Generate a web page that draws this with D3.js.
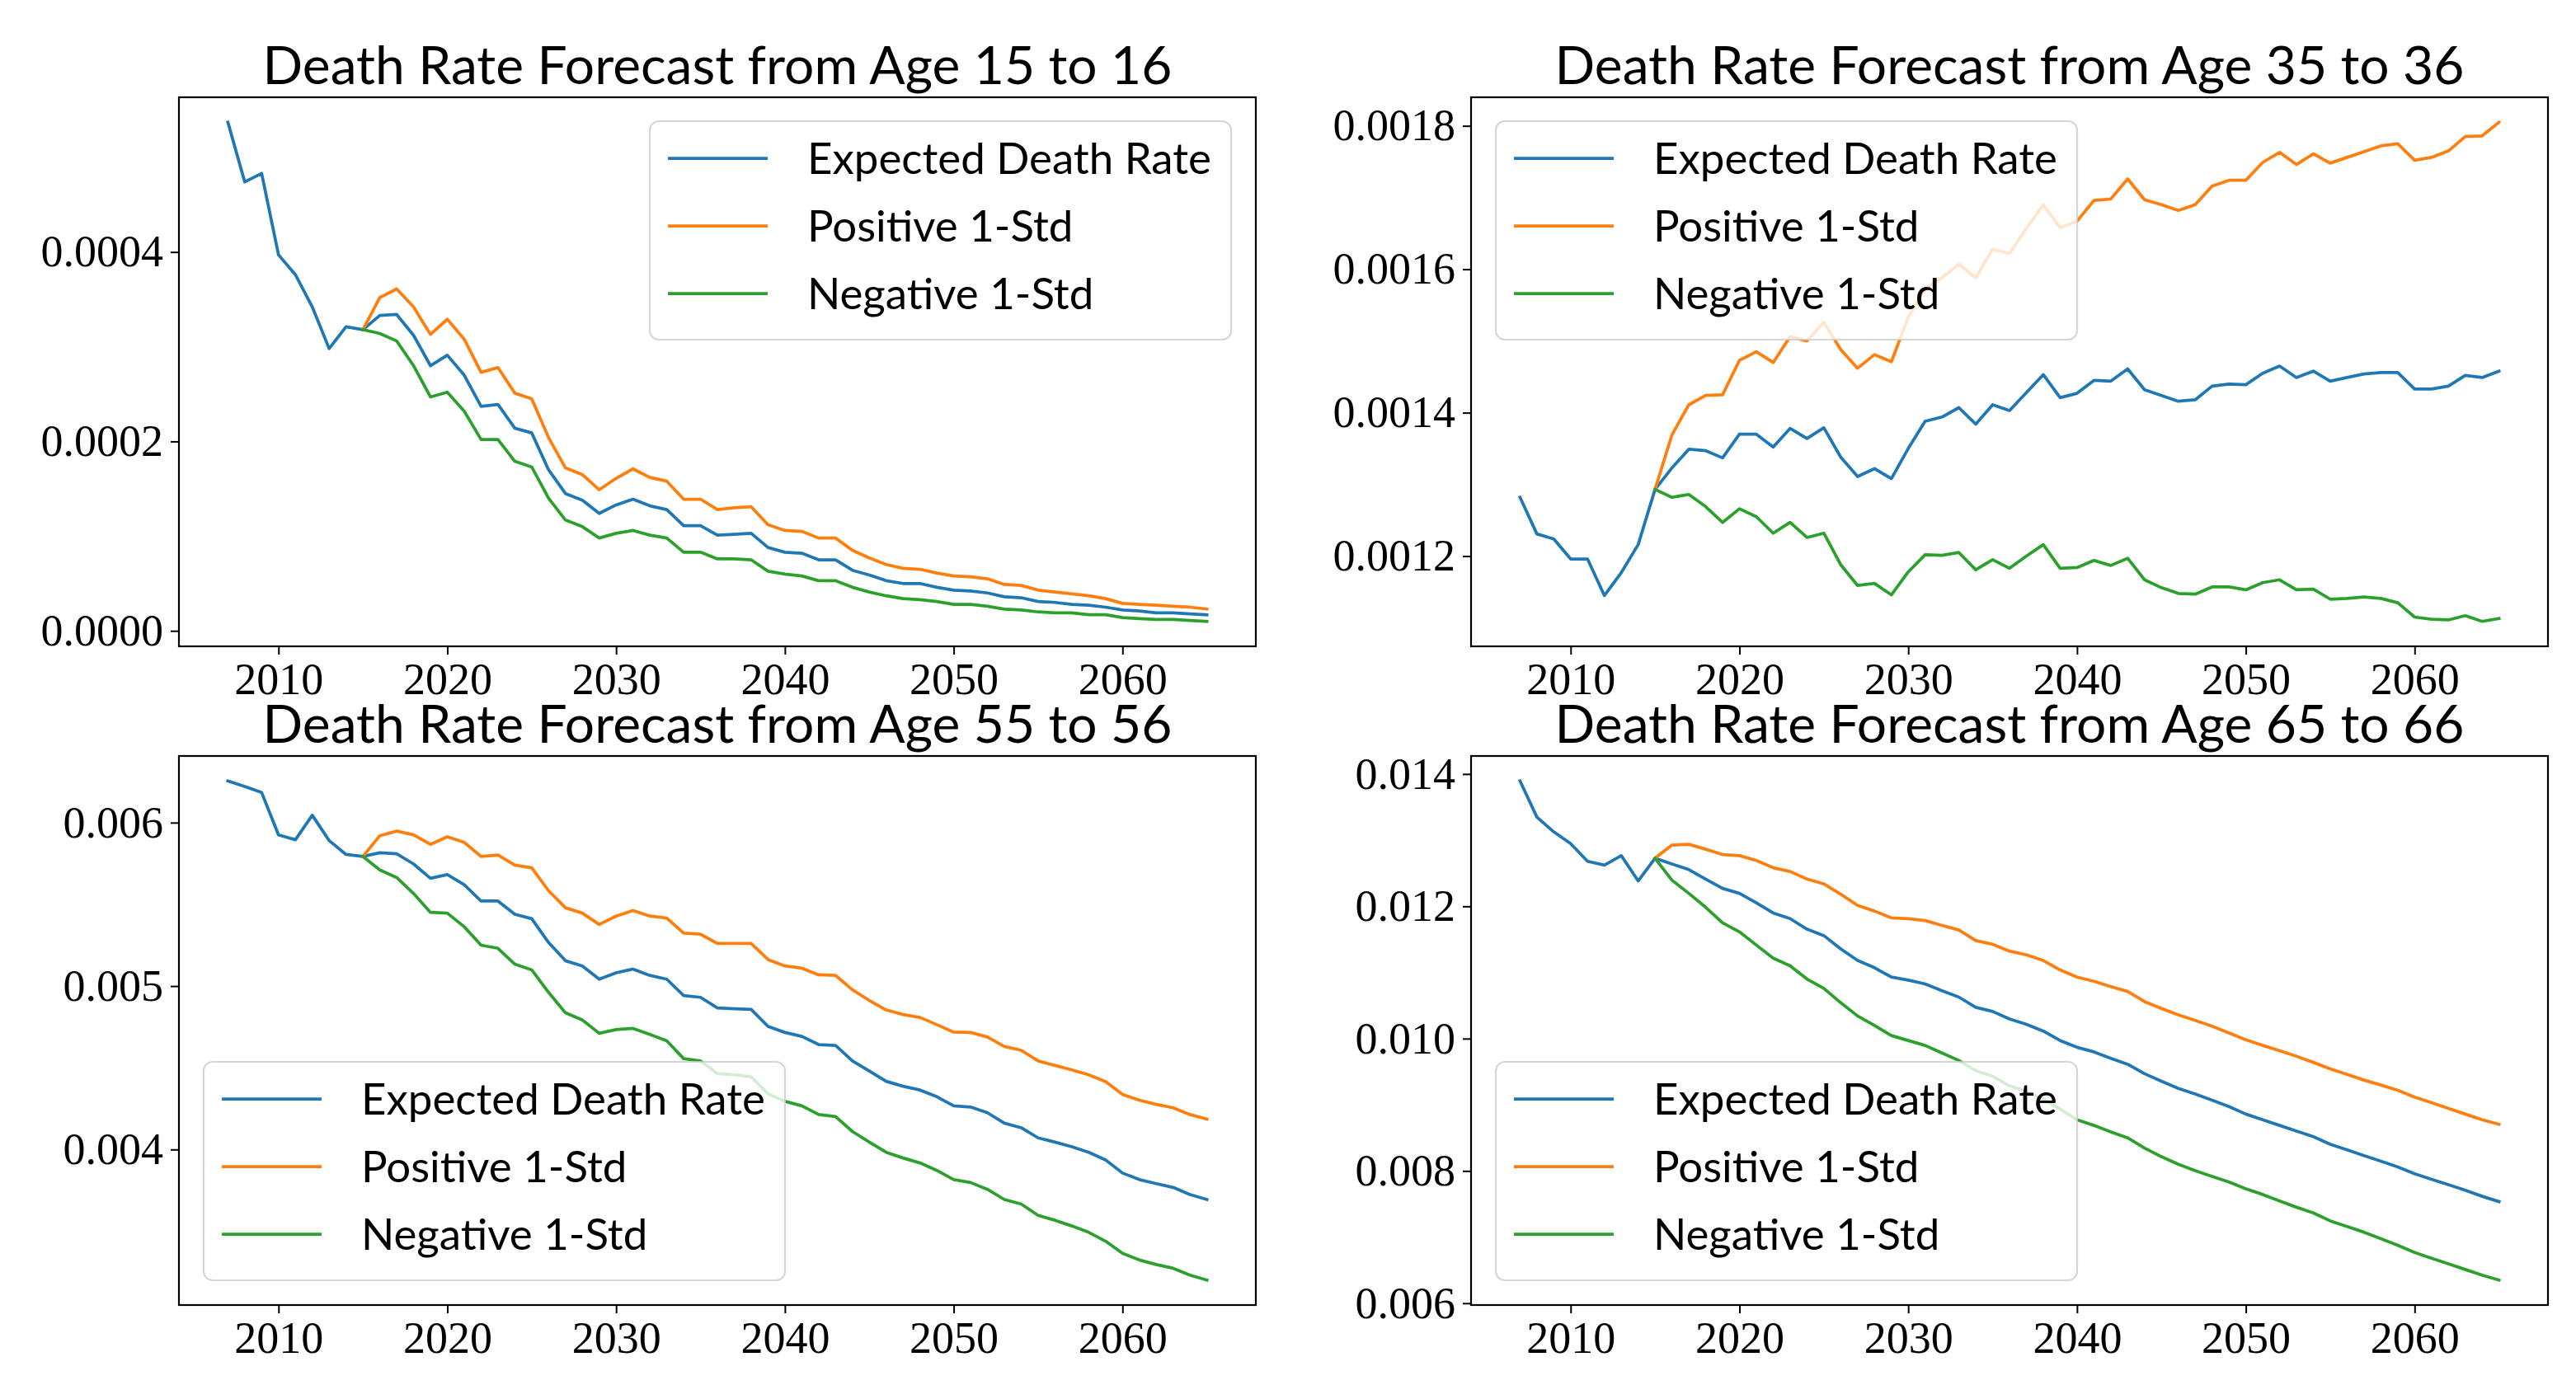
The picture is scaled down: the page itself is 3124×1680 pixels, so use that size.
<!DOCTYPE html>
<html>
<head>
<meta charset="utf-8">
<script src="https://cdn.jsdelivr.net/npm/d3@7"></script>
<style>
  body { margin: 0; background: #fff; }
  svg { display: block; }
</style>
</head>
<body>
<div id="chart"></div>
<script>
// Years shown on the x axis (history + forecast)
const years = [
  2007, 2008, 2009, 2010, 2011, 2012, 2013, 2014, 2015, 2016,
  2017, 2018, 2019, 2020, 2021, 2022, 2023, 2024, 2025, 2026,
  2027, 2028, 2029, 2030, 2031, 2032, 2033, 2034, 2035, 2036,
  2037, 2038, 2039, 2040, 2041, 2042, 2043, 2044, 2045, 2046,
  2047, 2048, 2049, 2050, 2051, 2052, 2053, 2054, 2055, 2056,
  2057, 2058, 2059, 2060, 2061, 2062, 2063, 2064, 2065
];
// the +/- 1 std bands start where the forecast starts
const forecastStart = 2015;

const xTicks = [2010, 2020, 2030, 2040, 2050, 2060];

// Age 15 to 16
const expected15 = [
  0.000537, 0.000474, 0.000483, 0.000397, 0.000376, 0.000342, 0.000298, 0.000321, 0.000318, 0.000333,
  0.000334, 0.000312, 0.000280, 0.000291, 0.000270, 0.000237, 0.000239, 0.000214, 0.000209, 0.000170,
  0.000145, 0.000138, 0.000124, 0.000133, 0.000139, 0.000132, 0.000128, 0.000111, 0.000111, 0.000101,
  0.000102, 0.000103, 0.000088, 0.000083, 0.000082, 0.000075, 0.000075, 0.000064, 0.000059, 0.000053,
  0.000050, 0.000050, 0.000046, 0.000043, 0.000042, 0.000040, 0.000036, 0.000035, 0.000031, 0.000030,
  0.000028, 0.000027, 0.000025, 0.000022, 0.000021, 0.000019, 0.000019, 0.000018, 0.000017
];
const positive15 = [
  0.000318, 0.000352, 0.000361, 0.000342, 0.000313, 0.000329, 0.000308, 0.000273, 0.000278, 0.000251,
  0.000245, 0.000204, 0.000172, 0.000165, 0.000149, 0.000161, 0.000171, 0.000162, 0.000158, 0.000139,
  0.000139, 0.000128, 0.000130, 0.000131, 0.000112, 0.000106, 0.000105, 0.000098, 0.000098, 0.000085,
  0.000077, 0.000070, 0.000066, 0.000065, 0.000061, 0.000058, 0.000057, 0.000055, 0.000049, 0.000048,
  0.000043, 0.000041, 0.000039, 0.000037, 0.000034, 0.000029, 0.000028, 0.000027, 0.000026, 0.000025,
  0.000023
];
const negative15 = [
  0.000318, 0.000314, 0.000306, 0.000280, 0.000247, 0.000252, 0.000232, 0.000202, 0.000202, 0.000179,
  0.000173, 0.000140, 0.000117, 0.000110, 0.000098, 0.000103, 0.000106, 0.000101, 0.000098, 0.000083,
  0.000083, 0.000076, 0.000076, 0.000075, 0.000063, 0.000060, 0.000058, 0.000053, 0.000053, 0.000046,
  0.000041, 0.000037, 0.000034, 0.000033, 0.000031, 0.000028, 0.000028, 0.000026, 0.000023, 0.000022,
  0.000020, 0.000019, 0.000019, 0.000017, 0.000017, 0.000014, 0.000013, 0.000012, 0.000012, 0.000011,
  0.000010
];
const yTicks15 = [0.0000, 0.0002, 0.0004];

// Age 35 to 36
const expected35 = [
  0.001282, 0.001231, 0.001224, 0.001196, 0.001196, 0.001145, 0.001177, 0.001216, 0.001293, 0.001323,
  0.001349, 0.001347, 0.001337, 0.001370, 0.001370, 0.001352, 0.001378, 0.001364, 0.001379, 0.001338,
  0.001311, 0.001322, 0.001308, 0.001350, 0.001388, 0.001394, 0.001407, 0.001384, 0.001411, 0.001403,
  0.001428, 0.001453, 0.001421, 0.001427, 0.001445, 0.001444, 0.001461, 0.001432, 0.001424, 0.001416,
  0.001418, 0.001437, 0.001440, 0.001439, 0.001455, 0.001465, 0.001449, 0.001458, 0.001444, 0.001449,
  0.001454, 0.001456, 0.001456, 0.001433, 0.001433, 0.001437, 0.001452, 0.001449, 0.001458
];
const positive35 = [
  0.001293, 0.001369, 0.001411, 0.001424, 0.001425, 0.001473, 0.001485, 0.001470, 0.001506, 0.001500,
  0.001526, 0.001488, 0.001462, 0.001481, 0.001471, 0.001533, 0.001573, 0.001588, 0.001607, 0.001588,
  0.001628, 0.001622, 0.001657, 0.001690, 0.001658, 0.001667, 0.001696, 0.001698, 0.001726, 0.001697,
  0.001690, 0.001682, 0.001690, 0.001716, 0.001724, 0.001724, 0.001749, 0.001763, 0.001746, 0.001761,
  0.001748, 0.001756, 0.001764, 0.001772, 0.001775, 0.001752, 0.001756, 0.001765, 0.001785, 0.001786,
  0.001805
];
const negative35 = [
  0.001293, 0.001282, 0.001286, 0.001269, 0.001247, 0.001266, 0.001255, 0.001232, 0.001247, 0.001226,
  0.001232, 0.001188, 0.001159, 0.001162, 0.001146, 0.001178, 0.001202, 0.001201, 0.001205, 0.001181,
  0.001195, 0.001183, 0.001200, 0.001216, 0.001183, 0.001184, 0.001194, 0.001187, 0.001197, 0.001167,
  0.001156, 0.001148, 0.001147, 0.001157, 0.001157, 0.001153, 0.001163, 0.001167, 0.001153, 0.001154,
  0.001140, 0.001141, 0.001143, 0.001141, 0.001135, 0.001115, 0.001112, 0.001111, 0.001117, 0.001109,
  0.001113
];
const yTicks35 = [0.0012, 0.0014, 0.0016, 0.0018];

// Age 55 to 56
const expected55 = [
  0.006255, 0.006221, 0.006184, 0.005925, 0.005895, 0.006045, 0.005890, 0.005805, 0.005793, 0.005816,
  0.005809, 0.005747, 0.005659, 0.005682, 0.005620, 0.005520, 0.005520, 0.005439, 0.005412, 0.005266,
  0.005155, 0.005123, 0.005042, 0.005081, 0.005104, 0.005065, 0.005042, 0.004942, 0.004931, 0.004866,
  0.004861, 0.004857, 0.004753, 0.004716, 0.004692, 0.004642, 0.004637, 0.004542, 0.004480, 0.004417,
  0.004387, 0.004364, 0.004323, 0.004267, 0.004260, 0.004225, 0.004161, 0.004133, 0.004071, 0.004045,
  0.004017, 0.003983, 0.003936, 0.003856, 0.003816, 0.003791, 0.003768, 0.003724, 0.003694
];
const positive55 = [
  0.005793, 0.005920, 0.005948, 0.005925, 0.005867, 0.005913, 0.005879, 0.005793, 0.005802, 0.005740,
  0.005724, 0.005583, 0.005479, 0.005446, 0.005377, 0.005428, 0.005462, 0.005428, 0.005416, 0.005324,
  0.005317, 0.005261, 0.005261, 0.005261, 0.005162, 0.005123, 0.005109, 0.005069, 0.005065, 0.004977,
  0.004912, 0.004854, 0.004826, 0.004808, 0.004764, 0.004718, 0.004716, 0.004688, 0.004630, 0.004607,
  0.004542, 0.004514, 0.004487, 0.004457, 0.004415, 0.004337, 0.004302, 0.004276, 0.004255, 0.004214,
  0.004186
];
const negative55 = [
  0.005793, 0.005710, 0.005664, 0.005566, 0.005451, 0.005446, 0.005363, 0.005250, 0.005231, 0.005134,
  0.005099, 0.004961, 0.004836, 0.004792, 0.004711, 0.004734, 0.004741, 0.004704, 0.004665, 0.004556,
  0.004542, 0.004464, 0.004457, 0.004445, 0.004341, 0.004295, 0.004267, 0.004214, 0.004202, 0.004110,
  0.004045, 0.003983, 0.003948, 0.003918, 0.003872, 0.003816, 0.003798, 0.003756, 0.003694, 0.003666,
  0.003597, 0.003567, 0.003532, 0.003493, 0.003439, 0.003365, 0.003324, 0.003296, 0.003273, 0.003231,
  0.003201
];
const yTicks55 = [0.004, 0.005, 0.006];

// Age 65 to 66
const expected65 = [
  0.013895, 0.013348, 0.013125, 0.012948, 0.012680, 0.012623, 0.012766, 0.012384, 0.012726, 0.012640,
  0.012555, 0.012412, 0.012270, 0.012196, 0.012053, 0.011899, 0.011814, 0.011654, 0.011557, 0.011357,
  0.011181, 0.011072, 0.010930, 0.010884, 0.010827, 0.010724, 0.010627, 0.010473, 0.010411, 0.010297,
  0.010217, 0.010114, 0.009971, 0.009869, 0.009800, 0.009703, 0.009612, 0.009470, 0.009356, 0.009247,
  0.009162, 0.009070, 0.008973, 0.008859, 0.008774, 0.008688, 0.008603, 0.008517, 0.008403, 0.008318,
  0.008232, 0.008147, 0.008061, 0.007958, 0.007873, 0.007793, 0.007707, 0.007616, 0.007536
];
const positive65 = [
  0.012726, 0.012926, 0.012937, 0.012863, 0.012783, 0.012766, 0.012692, 0.012583, 0.012526, 0.012412,
  0.012338, 0.012184, 0.012013, 0.011928, 0.011825, 0.011814, 0.011785, 0.011711, 0.011642, 0.011483,
  0.011426, 0.011323, 0.011266, 0.011181, 0.011038, 0.010930, 0.010867, 0.010787, 0.010713, 0.010559,
  0.010456, 0.010359, 0.010274, 0.010188, 0.010086, 0.009983, 0.009897, 0.009818, 0.009732, 0.009641,
  0.009544, 0.009458, 0.009373, 0.009299, 0.009219, 0.009116, 0.009031, 0.008945, 0.008859, 0.008774,
  0.008705
];
const negative65 = [
  0.012726, 0.012395, 0.012196, 0.011985, 0.011751, 0.011614, 0.011414, 0.011215, 0.011101, 0.010901,
  0.010759, 0.010542, 0.010342, 0.010200, 0.010046, 0.009971, 0.009897, 0.009783, 0.009669, 0.009515,
  0.009430, 0.009287, 0.009202, 0.009088, 0.008934, 0.008774, 0.008688, 0.008591, 0.008500, 0.008346,
  0.008215, 0.008101, 0.008004, 0.007918, 0.007833, 0.007730, 0.007644, 0.007547, 0.007451, 0.007365,
  0.007245, 0.007160, 0.007074, 0.006977, 0.006875, 0.006766, 0.006681, 0.006595, 0.006510, 0.006424,
  0.006350
];
const yTicks65 = [0.006, 0.008, 0.010, 0.012, 0.014];

const seriesNames = ["Expected Death Rate", "Positive 1-Std", "Negative 1-Std"];
const seriesColors = ["#1f77b4", "#ff7f0e", "#2ca02c"];

const panels = [
  { title: "Death Rate Forecast from Age 15 to 16", data: [expected15, positive15, negative15], ticks: yTicks15, fmt: ".4f", legend: "upper right" },
  { title: "Death Rate Forecast from Age 35 to 36", data: [expected35, positive35, negative35], ticks: yTicks35, fmt: ".4f", legend: "upper left" },
  { title: "Death Rate Forecast from Age 55 to 56", data: [expected55, positive55, negative55], ticks: yTicks55, fmt: ".3f", legend: "lower left" },
  { title: "Death Rate Forecast from Age 65 to 66", data: [expected65, positive65, negative65], ticks: yTicks65, fmt: ".3f", legend: "lower left" }
];

// Layout (pixels)
const width = 3124, height = 1680;
const boxes = [{ x: 217, y: 118 }, { x: 1784, y: 118 }, { x: 217, y: 917 }, { x: 1784, y: 917 }];
const pw = 1306, ph = 666;
const serifFont = "'Liberation Serif', 'DejaVu Serif', serif";
const sansFont = "Lato, 'Open Sans', sans-serif";
const tickFontSize = 54;

const forecastYears = years.filter(y => y >= forecastStart);

const svg = d3.select("#chart").append("svg")
    .attr("width", width)
    .attr("height", height)
    .style("background", "#fff");

// matplotlib style 5% margins
function padded(extent) {
    const pad = (extent[1] - extent[0]) * 0.05;
    return [extent[0] - pad, extent[1] + pad];
}

panels.forEach((p, i) => {
    const b = boxes[i];
    const g = svg.append("g").attr("transform", `translate(${b.x},${b.y})`);

    const x = d3.scaleLinear()
        .domain(padded(d3.extent(years)))
        .range([0, pw]);
    const y = d3.scaleLinear()
        .domain(padded(d3.extent(p.data.flat())))
        .range([ph, 0]);

    // x axis
    const xAxis = g.append("g")
        .attr("transform", `translate(0,${ph})`)
        .call(d3.axisBottom(x).tickValues(xTicks).tickFormat(d3.format("d")).tickSize(10).tickPadding(10));

    // y axis
    const yAxis = g.append("g")
        .call(d3.axisLeft(y).tickValues(p.ticks).tickFormat(d3.format(p.fmt)).tickSize(10).tickPadding(9));

    [xAxis, yAxis].forEach(ax => {
        ax.select(".domain").remove();
        ax.attr("font-family", serifFont).attr("font-size", tickFontSize);
        ax.selectAll(".tick line").attr("stroke", "#000").attr("stroke-width", 2);
        ax.selectAll(".tick text").attr("fill", "#000");
    });

    // the three lines
    const line = d3.line()
        .x(d => x(d[0]))
        .y(d => y(d[1]));

    p.data.forEach((values, j) => {
        const xs = j === 0 ? years : forecastYears;
        g.append("path")
            .datum(d3.zip(xs, values))
            .attr("d", line)
            .attr("fill", "none")
            .attr("stroke", seriesColors[j])
            .attr("stroke-width", 3.75)
            .attr("stroke-linejoin", "round")
            .attr("stroke-linecap", "square");
    });

    // frame
    g.append("rect")
        .attr("width", pw)
        .attr("height", ph)
        .attr("fill", "none")
        .attr("stroke", "#000")
        .attr("stroke-width", 2.2);

    // title
    g.append("text")
        .attr("class", "title")
        .attr("x", pw / 2)
        .attr("y", -16)
        .attr("text-anchor", "middle")
        .attr("font-family", sansFont)
        .attr("font-size", 66)
        .attr("fill", "#000")
        .text(p.title);

    // legend
    const lw = 705, lh = 265, off = 30;
    const lx = p.legend.endsWith("right") ? pw - off - lw : off;
    const ly = p.legend.startsWith("upper") ? off - 1 : ph - off - lh;
    const lg = g.append("g").attr("transform", `translate(${lx},${ly})`);

    lg.append("rect")
        .attr("width", lw)
        .attr("height", lh)
        .attr("rx", 11)
        .attr("fill", "#fff")
        .attr("fill-opacity", 0.8)
        .attr("stroke", "#cccccc")
        .attr("stroke-opacity", 0.8)
        .attr("stroke-width", 2.2);

    seriesNames.forEach((name, j) => {
        const yy = 45 + j * 82;
        lg.append("line")
            .attr("x1", 22).attr("x2", 143)
            .attr("y1", yy).attr("y2", yy)
            .attr("stroke", seriesColors[j])
            .attr("stroke-width", 3.75);
        lg.append("text")
            .attr("class", "legend-text")
            .attr("x", 191)
            .attr("y", yy)
            .attr("dy", "0.36em")
            .attr("font-family", sansFont)
            .attr("font-size", 56)
            .attr("fill", "#000")
            .text(name);
    });
});

// fit the sans texts to the widths in the original figure
function fitWidth(selector, target) {
    const sel = svg.selectAll(selector);
    const node = sel.node();
    const size = +node.getAttribute("font-size");
    const len = node.getComputedTextLength();
    if (len > 0) sel.attr("font-size", size * target / len);
}
fitWidth(".title", 1103);
fitWidth(".legend-text", 490);
</script>
</body>
</html>
